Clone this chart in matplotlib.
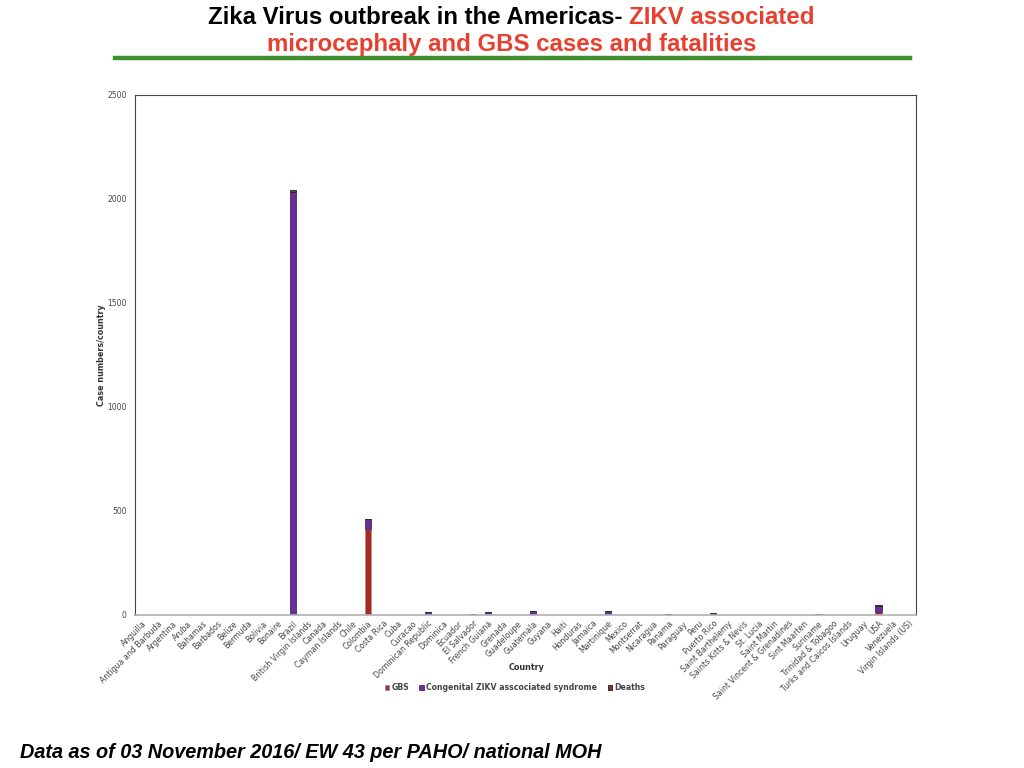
import matplotlib
matplotlib.use("Agg")
import matplotlib.pyplot as plt
import numpy as np

countries = ["Anguilla", "Antigua and Barbuda", "Argentina", "Aruba", "Bahamas", "Barbados",
             "Belize", "Bermuda", "Bolivia", "Bonaire", "Brazil", "British Virgin Islands",
             "Canada", "Cayman Islands", "Chile", "Colombia", "Costa Rica", "Cuba", "Curacao",
             "Dominican Republic", "Dominica", "Ecuador", "El Salvador", "French Guiana",
             "Grenada", "Guadeloupe", "Guatemala", "Guyana", "Haiti", "Honduras", "Jamaica",
             "Martinique", "Mexico", "Montserrat", "Nicaragua", "Panama", "Paraguay", "Peru",
             "Puerto Rico", "Saint Barthelemy", "Saints Kitts & Nevis", "St. Lucia",
             "Saint Martin", "Saint Vincent & Grenadines", "Sint Maarten", "Suriname",
             "Trinidad & Tobagoo", "Turks and Caicos Islands", "Uruguay", "USA", "Venezuela",
             "Virgin Islands (US)"]

gbs = [0, 0, 0, 0, 0, 0, 0, 0, 0, 0, 0, 0,
       0, 0, 0, 413, 0, 0, 0,
       0, 0, 0, 0, 0,
       0, 0, 0, 0, 0, 0, 0,
       0, 0, 0, 0, 0, 0, 0,
       0, 0, 0, 0,
       0, 0, 0, 0,
       0, 0, 0, 13, 0, 0]

congenital = [0, 0, 0, 0, 0, 0, 0, 0, 0, 0, 2033, 0,
              1, 0, 0, 47, 1, 0, 0,
              13, 0, 0, 6, 13,
              0, 0, 18, 0, 1, 2, 0,
              17, 2, 0, 0, 6, 2, 2,
              4, 0, 0, 0,
              0, 0, 1, 2,
              0, 0, 0, 28, 0, 0]

deaths = [0, 0, 0, 0, 0, 0, 0, 0, 0, 0, 8, 0,
          1, 0, 0, 3, 1, 0, 0,
          0, 0, 0, 0, 0,
          0, 0, 0, 0, 1, 0, 0,
          0, 0, 0, 0, 0, 0, 0,
          7, 0, 0, 0,
          0, 0, 1, 3,
          0, 0, 0, 6, 0, 0]

series_names = ["GBS", "Congenital ZIKV asscociated syndrome", "Deaths"]
yticks = [0, 500, 1000, 1500, 2000, 2500]

colors = ["#b0271f", "#6a2d9c", "#7a3b14"]

fig = plt.figure(figsize=(10.24, 7.68), dpi=100)
ax = fig.add_axes([135/1024, 1-615/768, (916-135)/1024, (615-95)/768])

x = np.arange(len(countries))
w = 0.42
g = np.array(gbs); c = np.array(congenital); d = np.array(deaths)
ax.bar(x, g, w, color=colors[0], edgecolor="#999999", linewidth=0.6, label=series_names[0])
ax.bar(x, c, w, bottom=g, color=colors[1], edgecolor="#4a2a66", linewidth=0.6, label=series_names[1])
ax.bar(x, d, w, bottom=g + c, color=colors[2], edgecolor="#222222", linewidth=0.6, label=series_names[2])

ax.set_xlim(-0.5, len(countries) - 0.5)
ax.set_ylim(0, 2500)
ax.set_yticks(yticks)
ax.set_yticklabels([str(v) for v in yticks], fontsize=5.5, color="#444444")
ax.tick_params(axis="y", length=0, pad=6)
ax.set_xticks(x)
ax.set_xticklabels(countries, rotation=45, ha="right", rotation_mode="anchor",
                   fontsize=5.6, color="#444444")
ax.tick_params(axis="x", length=0, pad=3)

for s in ["left", "top", "right"]:
    ax.spines[s].set_color("#444444")
    ax.spines[s].set_linewidth(0.8)
ax.spines["bottom"].set_color("#b0b0b0")
ax.spines["bottom"].set_linewidth(1.2)

ax.set_ylabel("Case numbers/country", fontsize=5.8, color="#333333", fontweight="bold", labelpad=1)
fig.text(527/1024, 1-668/768, "Country", fontsize=5.8, color="#333333", fontweight="bold",
         ha="center", va="center")

leg = ax.legend(loc="center", bbox_to_anchor=(515/1024, 1-688/768), bbox_transform=fig.transFigure,
                ncol=3, frameon=False, fontsize=5.6, handlelength=0.6, handleheight=0.6,
                handletextpad=0.3, columnspacing=1.3)
for t in leg.get_texts():
    t.set_color("#444444")
    t.set_fontweight("bold")

# Title
title_font = dict(fontsize=17.3, fontweight="bold", family=["Liberation Sans Narrow", "Liberation Sans", "DejaVu Sans"])
t1 = fig.text(208/1024, 1-17/768, "Zika Virus outbreak in the Americas- ", color="black",
              ha="left", va="center", **title_font)
fig.canvas.draw()
bb = t1.get_window_extent()
fig.text(bb.x1/1024, 1-17/768, "ZIKV associated", color="#e8402e", ha="left", va="center", **title_font)
fig.text(512/1024, 1-45/768, "microcephaly and GBS cases and fatalities", color="#e8402e",
         ha="center", va="center", **title_font)

fig.add_artist(plt.Line2D([115/1024, 910/1024], [1-58/768, 1-58/768], color="#3f8f2f", linewidth=3.2))

fig.text(20/1024, 1-752/768, "Data as of 03 November 2016/ EW 43 per PAHO/ national MOH",
         fontsize=14.3, fontweight="bold", fontstyle="italic", ha="left", va="center",
         family=["Liberation Sans", "DejaVu Sans"])

fig.savefig("out.png", dpi=100)
